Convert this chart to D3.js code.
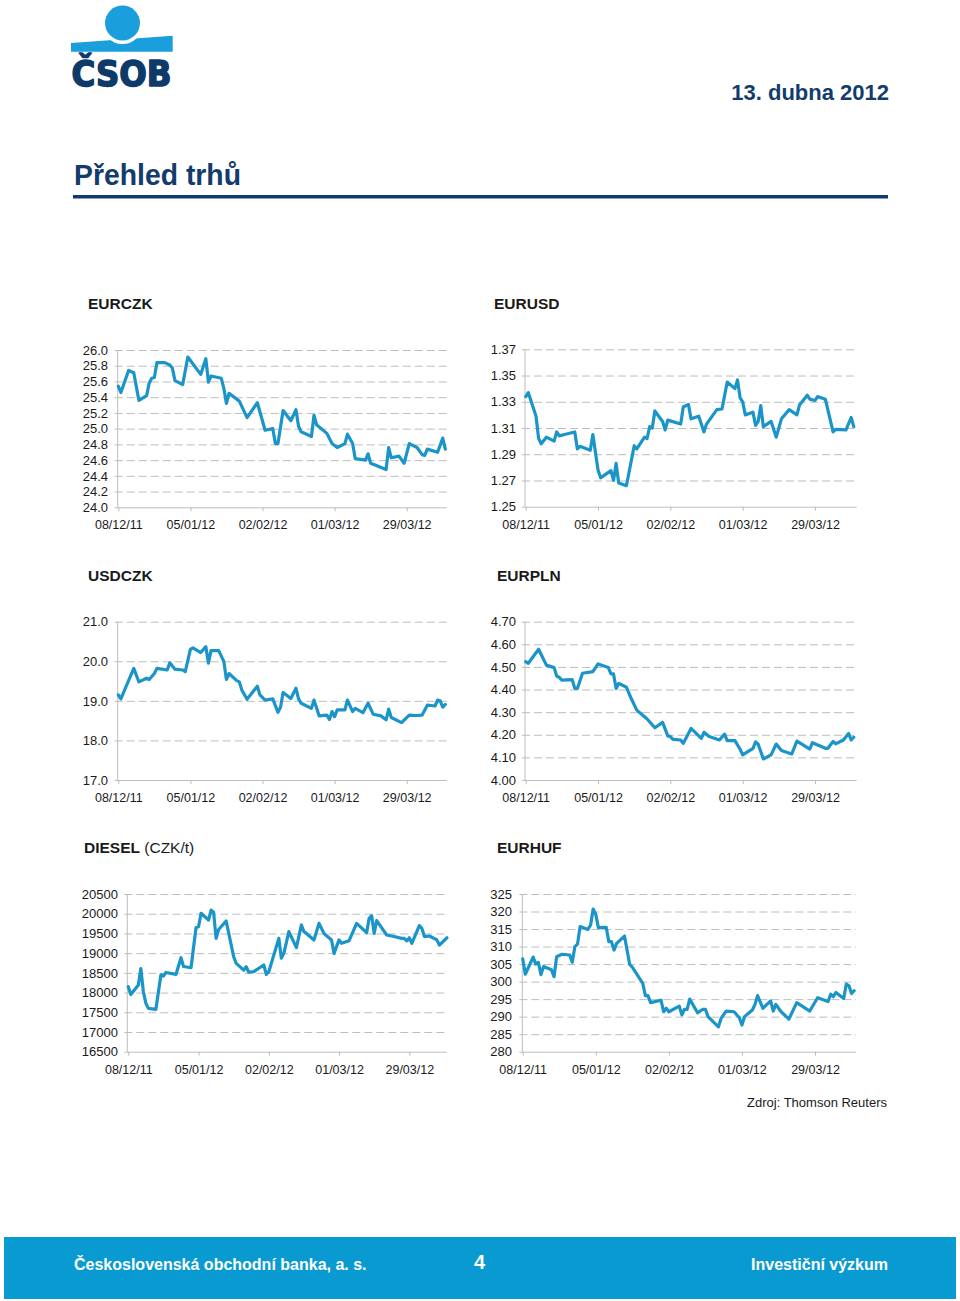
<!DOCTYPE html>
<html><head><meta charset="utf-8">
<script src="https://cdn.jsdelivr.net/npm/d3@7"></script>
<style>
html,body{margin:0;padding:0;background:#fff;}
svg{display:block;font-family:"Liberation Sans",Arial,Helvetica,sans-serif;}
</style></head><body>
<svg id="c" width="960" height="1301"></svg>
<script>
// ---------------- DATA ----------------
const xTickDates = ["2011-12-08","2012-01-05","2012-02-02","2012-03-01","2012-03-29"];

const eurczkDates = ["2011-12-08","2011-12-09","2011-12-12","2011-12-14","2011-12-16","2011-12-19","2011-12-20","2011-12-21","2011-12-22","2011-12-23","2011-12-26","2011-12-28","2011-12-29","2011-12-30","2012-01-02","2012-01-04","2012-01-09","2012-01-11","2012-01-12","2012-01-13","2012-01-17","2012-01-18","2012-01-19","2012-01-20","2012-01-24","2012-01-27","2012-01-31","2012-02-03","2012-02-06","2012-02-07","2012-02-08","2012-02-10","2012-02-13","2012-02-15","2012-02-16","2012-02-17","2012-02-21","2012-02-22","2012-02-23","2012-02-27","2012-02-29","2012-03-02","2012-03-05","2012-03-06","2012-03-08","2012-03-09","2012-03-13","2012-03-14","2012-03-15","2012-03-21","2012-03-22","2012-03-23","2012-03-26","2012-03-28","2012-03-30","2012-04-02","2012-04-04","2012-04-05","2012-04-06","2012-04-10","2012-04-12","2012-04-13"];
const eurczkValues = [25.54,25.46,25.74,25.71,25.36,25.42,25.58,25.64,25.65,25.84,25.84,25.81,25.77,25.61,25.56,25.91,25.69,25.89,25.59,25.67,25.64,25.51,25.32,25.45,25.35,25.14,25.33,24.98,25.00,24.81,24.81,25.23,25.10,25.24,25.03,24.96,24.90,25.17,25.05,24.94,24.81,24.76,24.81,24.93,24.81,24.62,24.60,24.68,24.56,24.48,24.76,24.63,24.65,24.56,24.81,24.76,24.67,24.66,24.74,24.70,24.88,24.74];
const eurczkTicks = [24.0,24.2,24.4,24.6,24.8,25.0,25.2,25.4,25.6,25.8,26.0];

const eurusdDates = ["2011-12-08","2011-12-09","2011-12-12","2011-12-13","2011-12-14","2011-12-16","2011-12-19","2011-12-20","2011-12-21","2011-12-23","2011-12-27","2011-12-28","2011-12-29","2012-01-02","2012-01-03","2012-01-05","2012-01-06","2012-01-10","2012-01-11","2012-01-12","2012-01-13","2012-01-16","2012-01-19","2012-01-20","2012-01-23","2012-01-24","2012-01-25","2012-01-26","2012-01-27","2012-01-30","2012-01-31","2012-02-01","2012-02-06","2012-02-07","2012-02-09","2012-02-10","2012-02-13","2012-02-15","2012-02-16","2012-02-20","2012-02-22","2012-02-24","2012-02-27","2012-02-28","2012-02-29","2012-03-01","2012-03-02","2012-03-05","2012-03-06","2012-03-07","2012-03-08","2012-03-09","2012-03-12","2012-03-14","2012-03-16","2012-03-19","2012-03-22","2012-03-23","2012-03-26","2012-03-27","2012-03-29","2012-03-30","2012-04-02","2012-04-05","2012-04-06","2012-04-10","2012-04-12","2012-04-13"];
const eurusdValues = [1.334,1.337,1.319,1.302,1.298,1.303,1.300,1.307,1.304,1.305,1.307,1.294,1.296,1.293,1.305,1.278,1.272,1.2775,1.270,1.283,1.268,1.266,1.2965,1.294,1.303,1.302,1.311,1.310,1.323,1.315,1.3085,1.316,1.313,1.326,1.328,1.317,1.319,1.307,1.313,1.324,1.3245,1.345,1.340,1.3466,1.333,1.330,1.320,1.322,1.312,1.315,1.327,1.311,1.315,1.303,1.317,1.324,1.320,1.3275,1.335,1.332,1.331,1.334,1.332,1.307,1.309,1.3085,1.318,1.311];
const eurusdTicks = [1.25,1.27,1.29,1.31,1.33,1.35,1.37];

const usdczkDates = ["2011-12-08","2011-12-09","2011-12-14","2011-12-16","2011-12-19","2011-12-20","2011-12-22","2011-12-23","2011-12-27","2011-12-28","2011-12-30","2012-01-02","2012-01-03","2012-01-05","2012-01-06","2012-01-09","2012-01-11","2012-01-12","2012-01-13","2012-01-16","2012-01-18","2012-01-19","2012-01-20","2012-01-23","2012-01-24","2012-01-25","2012-01-27","2012-01-31","2012-02-01","2012-02-03","2012-02-06","2012-02-08","2012-02-09","2012-02-10","2012-02-13","2012-02-15","2012-02-16","2012-02-17","2012-02-21","2012-02-22","2012-02-24","2012-02-27","2012-02-28","2012-02-29","2012-03-01","2012-03-02","2012-03-05","2012-03-06","2012-03-08","2012-03-09","2012-03-12","2012-03-14","2012-03-16","2012-03-19","2012-03-21","2012-03-22","2012-03-23","2012-03-27","2012-03-30","2012-04-02","2012-04-04","2012-04-06","2012-04-09","2012-04-10","2012-04-11","2012-04-12","2012-04-13"];
const usdczkValues = [19.15,19.05,19.82,19.48,19.57,19.54,19.69,19.82,19.78,19.96,19.80,19.78,19.74,20.30,20.34,20.22,20.37,19.95,20.27,20.27,19.99,19.54,19.69,19.51,19.48,19.27,19.04,19.37,19.15,19.02,19.05,18.71,18.84,19.21,19.06,19.32,19.05,18.94,18.81,19.02,18.62,18.64,18.53,18.73,18.60,18.77,18.77,19.02,18.73,18.81,18.70,18.94,18.66,18.62,18.52,18.79,18.58,18.45,18.64,18.63,18.64,18.89,18.87,19.02,19.00,18.84,18.91];
const usdczkTicks = [17.0,18.0,19.0,20.0,21.0];

const eurplnDates = ["2011-12-08","2011-12-09","2011-12-13","2011-12-16","2011-12-19","2011-12-20","2011-12-21","2011-12-22","2011-12-26","2011-12-27","2011-12-28","2011-12-30","2012-01-03","2012-01-05","2012-01-09","2012-01-10","2012-01-11","2012-01-12","2012-01-13","2012-01-16","2012-01-18","2012-01-20","2012-01-23","2012-01-24","2012-01-27","2012-01-30","2012-02-01","2012-02-02","2012-02-03","2012-02-06","2012-02-07","2012-02-08","2012-02-10","2012-02-14","2012-02-15","2012-02-17","2012-02-21","2012-02-23","2012-02-24","2012-02-27","2012-02-29","2012-03-01","2012-03-05","2012-03-06","2012-03-07","2012-03-09","2012-03-12","2012-03-14","2012-03-16","2012-03-20","2012-03-22","2012-03-27","2012-03-28","2012-04-02","2012-04-03","2012-04-05","2012-04-06","2012-04-09","2012-04-11","2012-04-12","2012-04-13"];
const eurplnValues = [4.523,4.516,4.578,4.508,4.497,4.460,4.454,4.442,4.444,4.405,4.405,4.472,4.479,4.513,4.497,4.469,4.469,4.405,4.427,4.410,4.357,4.309,4.280,4.270,4.231,4.255,4.195,4.192,4.180,4.177,4.162,4.184,4.228,4.184,4.211,4.192,4.177,4.203,4.174,4.174,4.136,4.111,4.140,4.169,4.158,4.093,4.111,4.159,4.130,4.115,4.172,4.137,4.165,4.140,4.140,4.170,4.160,4.177,4.206,4.177,4.189];
const eurplnTicks = [4.00,4.10,4.20,4.30,4.40,4.50,4.60,4.70];

const dieselDates = ["2011-12-08","2011-12-09","2011-12-12","2011-12-13","2011-12-14","2011-12-15","2011-12-16","2011-12-19","2011-12-21","2011-12-22","2011-12-23","2011-12-27","2011-12-29","2011-12-30","2012-01-02","2012-01-04","2012-01-05","2012-01-06","2012-01-09","2012-01-10","2012-01-11","2012-01-12","2012-01-13","2012-01-16","2012-01-19","2012-01-20","2012-01-23","2012-01-24","2012-01-25","2012-01-27","2012-01-31","2012-02-01","2012-02-02","2012-02-06","2012-02-07","2012-02-08","2012-02-10","2012-02-13","2012-02-15","2012-02-16","2012-02-17","2012-02-20","2012-02-22","2012-02-24","2012-02-27","2012-02-28","2012-03-01","2012-03-02","2012-03-05","2012-03-08","2012-03-12","2012-03-13","2012-03-14","2012-03-15","2012-03-16","2012-03-20","2012-03-22","2012-03-26","2012-03-27","2012-03-28","2012-03-29","2012-03-30","2012-04-02","2012-04-03","2012-04-04","2012-04-06","2012-04-09","2012-04-10","2012-04-13"];
const dieselValues = [18150,17950,18190,18610,18020,17730,17600,17575,18450,18420,18510,18460,18885,18660,18630,19650,19670,20010,19840,20090,20035,19375,19600,19815,18910,18740,18570,18655,18515,18530,18700,18460,18530,19375,18870,18995,19545,19140,19715,19545,19500,19335,19755,19500,19335,18995,19335,19250,19315,19755,19520,19885,19950,19500,19825,19460,19435,19375,19375,19310,19390,19250,19700,19630,19420,19435,19335,19205,19390];
const dieselTicks = [16500,17000,17500,18000,18500,19000,19500,20000,20500];

const eurhufDates = ["2011-12-08","2011-12-09","2011-12-12","2011-12-13","2011-12-14","2011-12-15","2011-12-16","2011-12-19","2011-12-20","2011-12-21","2011-12-23","2011-12-26","2011-12-27","2011-12-28","2011-12-29","2011-12-30","2012-01-02","2012-01-03","2012-01-04","2012-01-05","2012-01-06","2012-01-09","2012-01-10","2012-01-11","2012-01-12","2012-01-13","2012-01-16","2012-01-18","2012-01-19","2012-01-23","2012-01-24","2012-01-25","2012-01-26","2012-01-30","2012-01-31","2012-02-01","2012-02-02","2012-02-06","2012-02-07","2012-02-08","2012-02-09","2012-02-10","2012-02-13","2012-02-15","2012-02-16","2012-02-17","2012-02-21","2012-02-22","2012-02-24","2012-02-27","2012-02-29","2012-03-01","2012-03-02","2012-03-05","2012-03-06","2012-03-07","2012-03-09","2012-03-12","2012-03-13","2012-03-14","2012-03-16","2012-03-19","2012-03-22","2012-03-27","2012-03-30","2012-04-03","2012-04-04","2012-04-05","2012-04-06","2012-04-09","2012-04-10","2012-04-11","2012-04-12","2012-04-13"];
const eurhufValues = [306.5,302.1,307.0,305.0,305.5,302.0,304.3,303.4,301.4,307.1,307.8,307.6,305.5,310.0,310.7,315.7,314.9,316.1,320.7,319.2,315.4,315.5,311.4,311.4,309.0,310.9,313.0,304.9,304.1,299.5,296.0,296.0,294.0,294.7,291.4,292.4,291.4,293.0,290.5,292.1,292.1,295.0,291.1,292.1,292.1,290.0,287.1,289.5,291.6,291.4,289.7,287.6,290.0,291.9,293.5,296.0,292.4,294.5,291.6,293.5,291.4,289.3,294.0,291.6,295.4,294.3,296.4,295.7,296.9,295.2,299.3,298.8,296.6,297.4];
const eurhufTicks = [280,285,290,295,300,305,310,315,320,325];

// ---------------- LAYOUT ----------------
const NAVY = "#123c6d", BLUE = "#1b9fdc", LINE = "#1b95c9", GRID = "#bdbdbd", TXT = "#1a1a1a";
const parse = d3.timeParse("%Y-%m-%d");

const panels = [
  {title:"EURCZK", sub:"", dates:eurczkDates, values:eurczkValues, ticks:eurczkTicks, fmt:".1f",
   ax:117.7, t0:118.3, t4:406.7, right:446.7, top:350, bottom:507.3, tx:88, ty:308.5, lx:108},
  {title:"EURUSD", sub:"", dates:eurusdDates, values:eurusdValues, ticks:eurusdTicks, fmt:".2f",
   ax:525, t0:525.7, t4:815, right:856.7, top:349.3, bottom:506.7, tx:494, ty:308.5, lx:516},
  {title:"USDCZK", sub:"", dates:usdczkDates, values:usdczkValues, ticks:usdczkTicks, fmt:".1f",
   ax:117.7, t0:118.3, t4:406.7, right:446.7, top:621.7, bottom:780, tx:88, ty:581, lx:108},
  {title:"EURPLN", sub:"", dates:eurplnDates, values:eurplnValues, ticks:eurplnTicks, fmt:".2f",
   ax:525, t0:525.7, t4:815, right:856.7, top:621.7, bottom:780, tx:497, ty:581, lx:516},
  {title:"DIESEL", sub:" (CZK/t)", dates:dieselDates, values:dieselValues, ticks:dieselTicks, fmt:"d",
   ax:127.3, t0:128.3, t4:409.3, right:446.7, top:894, bottom:1051.7, tx:84, ty:853, lx:118},
  {title:"EURHUF", sub:"", dates:eurhufDates, values:eurhufValues, ticks:eurhufTicks, fmt:"d",
   ax:522.3, t0:522.7, t4:815, right:856, top:894, bottom:1051.7, tx:497, ty:853, lx:512}
];

const svg = d3.select("#c");

// ---------------- HEADER ----------------
const logo = svg.append("g");
logo.append("path").attr("d","M71,43 L172.7,35.7 L172.7,51.7 L71,51.7 Z").attr("fill",BLUE);
logo.append("circle").attr("cx",122.5).attr("cy",23).attr("r",21).attr("fill","#fff");
logo.append("circle").attr("cx",122.5).attr("cy",23).attr("r",17.5).attr("fill",BLUE);
logo.append("text").attr("x",71.5).attr("y",85.5).attr("font-family","DejaVu Sans, sans-serif")
  .attr("font-weight",900).attr("font-size",35).attr("fill","#0e3a6a")
  .attr("stroke","#0e3a6a").attr("stroke-width",1.6).attr("stroke-linejoin","round")
  .attr("textLength",100).attr("lengthAdjust","spacingAndGlyphs").text("ČSOB");

svg.append("text").attr("x",889).attr("y",99.5).attr("text-anchor","end")
  .attr("font-weight","bold").attr("font-size",22).attr("fill",NAVY).text("13. dubna 2012");

svg.append("text").attr("x",74).attr("y",185).attr("font-weight","bold").attr("font-size",29.5)
  .attr("fill",NAVY).attr("textLength",167).attr("lengthAdjust","spacingAndGlyphs").text("Přehled trhů");
svg.append("rect").attr("x",73).attr("y",195).attr("width",815).attr("height",3.5).attr("fill",NAVY);

// ---------------- PANELS ----------------
panels.forEach(p => {
  const data = p.dates.map((d,i) => ({date: parse(d), v: p.values[i]}));
  const x = d3.scaleTime().domain([parse(xTickDates[0]), parse(xTickDates[4])]).range([p.t0, p.t4]);
  const y = d3.scaleLinear().domain([p.ticks[0], p.ticks[p.ticks.length-1]]).range([p.bottom, p.top]);
  const g = svg.append("g");

  // title
  const t = g.append("text").attr("x",p.tx).attr("y",p.ty).attr("font-size",15.5).attr("fill",TXT);
  t.append("tspan").attr("font-weight","bold").text(p.title);
  if (p.sub) t.append("tspan").attr("font-weight","normal").text(p.sub);

  // y axis with gridlines
  const yAxis = d3.axisLeft(y).tickValues(p.ticks).tickFormat(d3.format(p.fmt))
    .tickSizeInner(-(p.right - p.ax)).tickSizeOuter(0).tickPadding(p.ax - p.lx);
  const ya = g.append("g").attr("transform",`translate(${p.ax},0)`).call(yAxis);
  ya.select(".domain").remove();
  ya.selectAll(".tick line").attr("x1",-3).attr("stroke",GRID).attr("stroke-width",1)
    .attr("stroke-dasharray", d => d === p.ticks[0] ? null : "8,4");
  ya.selectAll(".tick text").attr("font-size",13).attr("fill",TXT)
    .attr("font-family","Liberation Sans, Arial, sans-serif");

  // vertical axis line
  g.append("line").attr("x1",p.ax).attr("x2",p.ax).attr("y1",p.top).attr("y2",p.bottom)
    .attr("stroke",GRID).attr("stroke-width",1);

  // x axis
  const xAxis = d3.axisBottom(x).tickValues(xTickDates.map(parse))
    .tickFormat(d3.timeFormat("%d/%m/%y")).tickSizeInner(4).tickSizeOuter(0).tickPadding(9);
  const xa = g.append("g").attr("transform",`translate(0,${p.bottom})`).call(xAxis);
  xa.select(".domain").remove();
  xa.selectAll(".tick line").attr("stroke",GRID);
  xa.selectAll(".tick text").attr("font-size",12.5).attr("fill",TXT)
    .attr("font-family","Liberation Sans, Arial, sans-serif");

  // series line
  g.append("path").datum(data)
    .attr("d", d3.line().x(d => x(d.date)).y(d => y(d.v)))
    .attr("fill","none").attr("stroke",LINE).attr("stroke-width",3.2)
    .attr("stroke-linejoin","round").attr("stroke-linecap","round");
});

// source
svg.append("text").attr("x",887).attr("y",1106.5).attr("text-anchor","end")
  .attr("font-size",13).attr("fill",TXT).text("Zdroj: Thomson Reuters");

// ---------------- FOOTER ----------------
svg.append("rect").attr("x",4).attr("y",1237).attr("width",952).attr("height",62).attr("fill","#0a9ad2");
svg.append("text").attr("x",74).attr("y",1269.5).attr("font-weight","bold").attr("font-size",16)
  .attr("fill","#fff").text("Československá obchodní banka, a. s.");
svg.append("text").attr("x",474).attr("y",1268.5).attr("font-weight","bold").attr("font-size",20)
  .attr("fill","#fff").text("4");
svg.append("text").attr("x",888).attr("y",1269.5).attr("text-anchor","end").attr("font-weight","bold")
  .attr("font-size",16).attr("fill","#fff").text("Investiční výzkum");
</script>
</body></html>
